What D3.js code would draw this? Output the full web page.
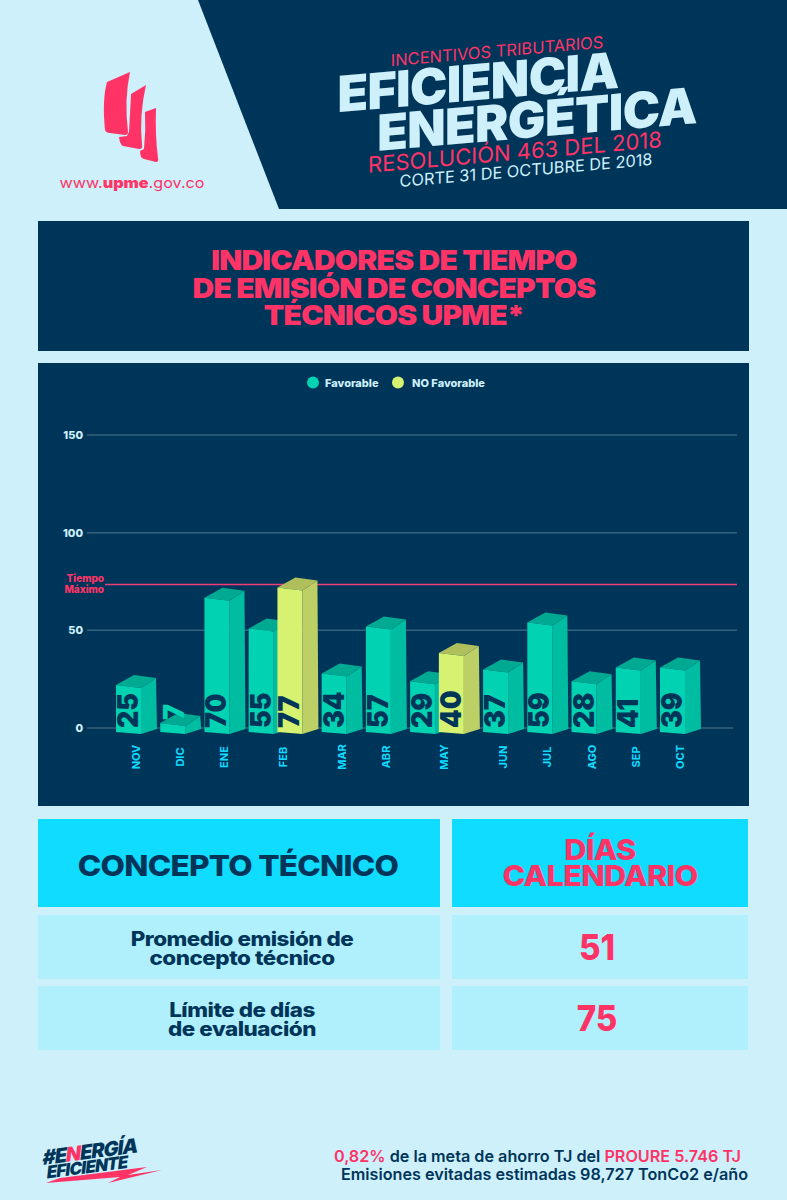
<!DOCTYPE html>
<html>
<head>
<meta charset="utf-8">
<script src="https://cdn.jsdelivr.net/npm/d3@7"></script>
<style>
html, body { margin: 0; padding: 0; background: #cdf0fb; }
svg { display: block; }
text { font-family: Inter, "Noto Sans", sans-serif; }
</style>
</head>
<body>
<div id="chart"></div>
<script>
// values
const months = ["NOV", "DIC", "ENE", "FEB", "MAR", "ABR", "MAY", "JUN", "JUL", "AGO", "SEP", "OCT"];
const favorable = [25, 7, 70, 55, 34, 57, 29, 37, 59, 28, 41, 39];
const noFavorable = [null, null, null, 77, null, null, 40, null, null, null, null, null];
// the printed numbers and the height of the bars do not agree in the picture,
// so the height against the axis is kept on its own
const favorableHeight = [24, 4.6, 68.7, 53, 30, 54, 26, 32, 56, 26, 33, 33];
const noFavorableHeight = [null, null, null, 74, null, null, 40.5, null, null, null, null, null];
const yTicks = [0, 50, 100, 150];
const tiempoMaximo = 75;
const legendLabels = ["Favorable", "NO Favorable"];
const tableRows = [["Promedio emisión de", "concepto técnico"], ["Límite de días", "de evaluación"]];
const tableValues = [51, 75];

const navy = "#00355a", pink = "#ff3366", pale = "#cdf0fb", cyan = "#0fdcff", rowBg = "#b0f0fd";
const colors = {
    fav: { front: "#00d2b2", side: "#00bca1", top: "#00aa92" },
    no: { front: "#d6f270", side: "#bcd066", top: "#aebf5c" }
};

function main() {
    const svg = d3.select("#chart").append("svg")
        .attr("width", 787).attr("height", 1200);
    svg.append("rect").attr("width", 787).attr("height", 1200).attr("fill", pale);
    drawHeader(svg);
    drawPanels(svg);
    drawChart(svg);
    drawTable(svg);
    drawFooter(svg);
}

// the reference font is wider than anything installed, so text gets stretched sideways
function wideText(svg, str, x, y, size, weight, fill, sx, spacing) {
    return svg.append("text")
        .attr("transform", `translate(${x},${y}) scale(${sx},1)`)
        .attr("text-anchor", "middle")
        .attr("fill", fill)
        .style("font-size", size + "px")
        .style("font-weight", weight)
        .style("letter-spacing", (spacing || 0) + "px")
        .text(str);
}

function drawHeader(svg) {
    svg.append("path").attr("d", "M198,0H787V209H279Z").attr("fill", navy);

    // logo
    const logo = svg.append("g").attr("fill", pink);
    logo.append("path").attr("d", "M130,72 L107,82 Q102,100 105,130 Q106,133 110,133 L125,135 Q128,135 128,132 Q124,100 130,72Z");
    logo.append("path").attr("d", "M146,85 L131,94 Q130,115 129,132 L127,136 L119,137 Q120,145 123,146 L139,149 Q143,149 142,145 Q139,115 146,85Z");
    logo.append("path").attr("d", "M156,108 L145,112 Q146,130 144,149 L140,151 Q140,158 144,159 L156,162 Q159,162 158,158 Q155,135 156,108Z");

    const url = wideText(svg, "", 132, 188, 14.5, 400, pink, 1.115);
    url.append("tspan").text("www.");
    url.append("tspan").style("font-weight", 900).text("upme");
    url.append("tspan").text(".gov.co");

    const lines = [
        { t: "INCENTIVOS TRIBUTARIOS", x: 497, y: 57, size: 16.5, fill: pink, w: 400, ls: 0 },
        { t: "EFICIENCIA", x: 478, y: 100, size: 50, fill: pale, w: 900, ls: -0.6 },
        { t: "ENERGÉTICA", x: 537, y: 137, size: 50, fill: pale, w: 900, ls: -0.6 },
        { t: "RESOLUCIÓN 463 DEL 2018", x: 515, y: 160, size: 22, fill: pink, w: 400, ls: 0 },
        { t: "CORTE 31 DE OCTUBRE DE 2018", x: 526, y: 176, size: 16.3, fill: pale, w: 400, ls: 0 }
    ];
    svg.selectAll(".headLine").data(lines).enter().append("text")
        .attr("class", "headLine")
        .attr("transform", d => `translate(${d.x},${d.y}) skewY(-5)`)
        .attr("text-anchor", "middle")
        .attr("fill", d => d.fill)
        .style("font-size", d => d.size + "px")
        .style("font-weight", d => d.w)
        .style("letter-spacing", d => d.ls + "px")
        .text(d => d.t);
}

function drawPanels(svg) {
    svg.append("rect").attr("x", 38).attr("y", 221).attr("width", 711).attr("height", 130).attr("fill", navy);
    svg.append("rect").attr("x", 38).attr("y", 363).attr("width", 711).attr("height", 443).attr("fill", navy);

    ["INDICADORES DE TIEMPO", "DE EMISIÓN DE CONCEPTOS", "TÉCNICOS UPME*"].forEach((line, i) => {
        wideText(svg, line, 394, 270 + i * 27.5, 27.5, 900, pink, 1.09, -0.7);
    });
}

function drawChart(svg) {
    const yScale = d3.scaleLinear().domain([0, 150]).range([728, 435]);
    const gridRight = { 0: 733, 50: 737, 100: 737, 150: 737 };

    // flatten to one row per bar; a month with both kinds sits its bars closer together
    const bars = [];
    const PAIR_STEP = 0.65;
    let slot = 0;
    months.forEach((month, i) => {
        bars.push({ month, kind: "fav", value: favorable[i], height: favorableHeight[i], slot, monthIndex: i });
        if (noFavorable[i] !== null) {
            slot += PAIR_STEP;
            bars.push({ month, kind: "no", value: noFavorable[i], height: noFavorableHeight[i], slot, monthIndex: i });
        }
        slot += 1;
    });
    const lastSlot = d3.max(bars, d => d.slot);
    const xScale = d3.scaleLinear().domain([0, lastSlot]).range([116, 660]);

    // grid lines and axis
    const axis = svg.append("g").attr("class", "axis")
        .attr("transform", "translate(87,0)")
        .call(d3.axisLeft(yScale).tickValues(yTicks).tickSize(0).tickPadding(4));
    axis.select(".domain").remove();
    axis.selectAll("text")
        .attr("fill", pale)
        .style("font-size", "11px")
        .style("font-weight", 800)
        .style("font-family", "Inter, sans-serif");

    svg.selectAll(".grid").data(yTicks).enter().append("line")
        .attr("class", "grid")
        .attr("x1", 87).attr("x2", d => gridRight[d])
        .attr("y1", d => yScale(d)).attr("y2", d => yScale(d))
        .attr("stroke", "#35627f").attr("stroke-width", 1.5);

    // tiempo maximo line
    svg.append("line")
        .attr("x1", 105).attr("x2", 737)
        .attr("y1", yScale(tiempoMaximo) + 3).attr("y2", yScale(tiempoMaximo) + 3)
        .attr("stroke", "#ee3d78").attr("stroke-width", 1.3);
    svg.selectAll(".maxLabel").data(["Tiempo", "Máximo"]).enter().append("text")
        .attr("class", "maxLabel")
        .attr("x", 104).attr("y", (d, i) => 582 + i * 11)
        .attr("text-anchor", "end")
        .attr("fill", pink)
        .style("font-size", "10px")
        .style("font-weight", 800)
        .text(d => d);

    // legend
    const legend = svg.append("g");
    const legendX = [313, 398];
    legend.selectAll("circle").data(legendLabels).enter().append("circle")
        .attr("cx", (d, i) => legendX[i]).attr("cy", 382.5).attr("r", 6)
        .attr("fill", (d, i) => i === 0 ? colors.fav.front : colors.no.front);
    legend.selectAll("text").data(legendLabels).enter().append("text")
        .attr("x", (d, i) => legendX[i] + (i === 0 ? 12 : 14)).attr("y", 386.5)
        .attr("fill", pale)
        .style("font-size", "11px")
        .style("font-weight", 800)
        .text(d => d);

    // 3d bars, drawn from the axis scale
    const frontW = 25, sideW = 15, baseY = yScale(0) + 4;
    const barTop = d => baseY - (yScale(0) - yScale(d.height));
    const group = svg.selectAll(".bar").data(bars).enter().append("g").attr("class", "bar");

    group.append("path").attr("fill", d => colors[d.kind].side)
        .attr("d", d => {
            const x = xScale(d.slot), t = barTop(d);
            return `M${x + frontW},${t + 3}L${x + frontW + sideW},${t - 7}L${x + frontW + sideW + 1},${baseY - 3}L${x + frontW},${baseY + 2}Z`;
        });
    group.append("path").attr("fill", d => colors[d.kind].top)
        .attr("d", d => {
            const x = xScale(d.slot), t = barTop(d);
            return `M${x},${t}L${x + 18},${t - 10}L${x + frontW + sideW},${t - 7}L${x + frontW},${t + 3}Z`;
        });
    group.append("path").attr("fill", d => colors[d.kind].front)
        .attr("d", d => {
            const x = xScale(d.slot), t = barTop(d);
            return `M${x},${t}L${x + frontW},${t + 3}L${x + frontW},${baseY + 2}L${x},${baseY}Z`;
        });
    // a bar too short for its number has the number standing on top, in the bar colour
    const isShort = d => d.height < 10;
    group.append("text")
        .attr("transform", d => `translate(${xScale(d.slot) + 22 + (isShort(d) ? 2 : 0)},${baseY - (isShort(d) ? 12 : 4)}) rotate(-90) scale(0.92,1)`)
        .attr("fill", d => isShort(d) ? colors[d.kind].front : navy)
        .style("font-size", "29px")
        .style("font-weight", 900)
        .text(d => d.value);

    // month labels, centred under the bars of the month
    const labelX = months.map((m, i) => d3.mean(bars.filter(b => b.monthIndex === i), b => xScale(b.slot)) + 24);
    svg.selectAll(".month").data(months).enter().append("text")
        .attr("class", "month")
        .attr("transform", (d, i) => `translate(${labelX[i]},757) rotate(-90)`)
        .attr("text-anchor", "middle")
        .attr("fill", cyan)
        .style("font-size", "11px")
        .style("font-weight", 700)
        .text(d => d);
}

function drawTable(svg) {
    const col = [{ x: 38, w: 402 }, { x: 452, w: 296 }];
    col.forEach(c => {
        svg.append("rect").attr("x", c.x).attr("y", 819).attr("width", c.w).attr("height", 88).attr("fill", cyan);
    });
    wideText(svg, "CONCEPTO TÉCNICO", 238, 876, 29, 800, navy, 1.09, -0.7);
    ["DÍAS", "CALENDARIO"].forEach((line, i) => {
        wideText(svg, line, 600, 860 + i * 26, 29, 800, pink, 1.06, -0.7);
    });

    tableRows.forEach((lines, i) => {
        const y = 915 + i * 71;
        col.forEach(c => {
            svg.append("rect").attr("x", c.x).attr("y", y).attr("width", c.w).attr("height", 64).attr("fill", rowBg);
        });
        lines.forEach((line, j) => {
            wideText(svg, line, 242, y + 31 + j * 19, 20, 800, navy, 1.12, -0.4);
        });
        wideText(svg, tableValues[i], 597, y + 45, 36, 800, pink, 0.92);
    });
}

function drawFooter(svg) {
    const l1 = svg.append("text").attr("x", 741).attr("y", 1162).attr("text-anchor", "end")
        .style("font-size", "16.2px").style("font-weight", 600).attr("fill", navy);
    l1.append("tspan").attr("fill", pink).text("0,82%");
    l1.append("tspan").text(" de la meta de ahorro TJ del ");
    l1.append("tspan").attr("fill", pink).text("PROURE 5.746 TJ");
    svg.append("text").attr("x", 748).attr("y", 1180).attr("text-anchor", "end")
        .style("font-size", "16.2px").style("font-weight", 600).attr("fill", navy)
        .text("Emisiones evitadas estimadas 98,727 TonCo2 e/año");

    // hashtag mark
    svg.append("path").attr("d", "M60,1178 L147,1167 L128,1175 L162,1170 L108,1183 L120,1177 L46,1183 Z").attr("fill", pink);
    const tag = svg.append("g").attr("transform", "translate(42,1165) rotate(-7.5) skewX(-14)")
        .style("font-weight", 900).attr("fill", navy);
    const t1 = tag.append("text").style("font-size", "20px").style("letter-spacing", "-1px");
    t1.append("tspan").text("#E");
    t1.append("tspan").attr("fill", pink).text("N");
    t1.append("tspan").text("ERGÍA");
    tag.append("text").attr("x", 6).attr("y", 14).style("font-size", "17px").style("letter-spacing", "-0.8px").text("EFICIENTE");
}

main();
</script>
</body>
</html>
